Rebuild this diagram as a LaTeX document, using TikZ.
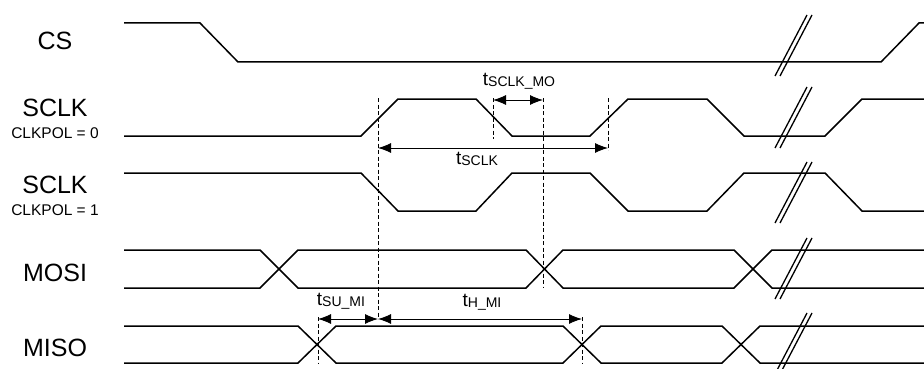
\documentclass[tikz,border=0pt]{standalone}
\usepackage{fontspec}
\setmainfont{Liberation Sans}
\usetikzlibrary{arrows.meta}

\newcommand{\tsub}[1]{t\raisebox{-1pt}{\fontsize{14}{14}\selectfont #1}}

\tikzset{
  sig/.style={line width=1.5pt},
  brk/.style={line width=1.3pt},
  guide/.style={line width=0.8pt, dash pattern=on 4pt off 2.5pt},
  dim/.style={line width=0.9pt, {Latex[length=13pt,width=10pt]}-{Latex[length=13pt,width=10pt]}},
  siglabel/.style={anchor=base, inner sep=0pt, font=\fontsize{25}{30}\selectfont},
  pollabel/.style={anchor=base, inner sep=0pt, font=\fontsize{15.5}{18}\selectfont},
  timelabel/.style={anchor=base, inner sep=0pt, font=\fontsize{19}{22}\selectfont},
}

\begin{document}
\begin{tikzpicture}[x=1pt,y=-1pt]
    \useasboundingbox (0,0) rectangle (924,369);

    % draw signal names
    \node[siglabel] (cs) at (55,50) {CS};
    \node[siglabel] (sclka) at (55,117) {SCLK};
    \node[pollabel] (pola) at (55,138) {CLKPOL = 0};
    \node[siglabel] (sclkb) at (55,193) {SCLK};
    \node[pollabel] (polb) at (55,215) {CLKPOL = 1};
    \node[siglabel] (mosi) at (55,281) {MOSI};
    \node[siglabel] (miso) at (55,356) {MISO};

    % draw CS
    \draw[sig] (124,23) -- (200,23) -- (238,62) -- (881,62) -- (919,23) -- (924,23);

    % draw SCLK, CLKPOL = 0
    \draw[sig] (124,136) -- (361,136) -- (398,99) -- (476,99) -- (512,136) -- (590,136)
      -- (628,99) -- (707,99) -- (744,136) -- (825,136) -- (862,99) -- (924,99);

    % draw SCLK, CLKPOL = 1
    \draw[sig] (124,173) -- (361,173) -- (398,211) -- (476,211) -- (512,173) -- (590,173)
      -- (628,211) -- (707,211) -- (744,173) -- (825,173) -- (862,211) -- (924,211);

    % draw MOSI
    \draw[sig] (124,250) -- (260,250) -- (298,288) -- (526,288) -- (563,250) -- (734,250) -- (772,288) -- (924,288);
    \draw[sig] (124,288) -- (260,288) -- (298,250) -- (526,250) -- (563,288) -- (734,288) -- (772,250) -- (924,250);

    % draw MISO
    \draw[sig] (124,326) -- (298,326) -- (336,363) -- (563,363) -- (601,326) -- (722,326) -- (760,363) -- (924,363);
    \draw[sig] (124,363) -- (298,363) -- (336,326) -- (563,326) -- (601,363) -- (722,363) -- (760,326) -- (924,326);

    % draw break marks
    \foreach \y in {15, 87, 162, 238, 313}
      \foreach \dx in {0, 5}
        \draw[brk] (775+\dx,\y+61) -- (807+\dx,\y);

    % draw dashed guides
    \coordinate (mo1) at (493,100);
    \coordinate (mo2) at (543,100);
    \coordinate (clk1) at (378,148);
    \coordinate (clk2) at (608,148);
    \coordinate (su1) at (318,319);
    \coordinate (su2) at (378,319);
    \coordinate (h2) at (582,319);

    \draw[guide] (378,98) -- (378,319);
    \draw[guide] (493,98) -- (493,139);
    \draw[guide] (543,98) -- (543,288);
    \draw[guide] (608,98) -- (608,150);
    \draw[guide] (318,317) -- (318,363);
    \draw[guide] (582,317) -- (582,363);

    % draw timing arrows
    \draw[dim] (mo1) -- (mo2);
    \draw[dim] (clk1) -- (clk2);
    \draw[dim] (su1) -- (su2);
    \draw[dim] (su2) -- (h2);

    % draw timing labels
    \node[timelabel] (tmo) at (519,85) {\tsub{SCLK\_MO}};
    \node[timelabel] (tclk) at (477,164) {\tsub{SCLK}};
    \node[timelabel] (tsu) at (341,305) {\tsub{SU\_MI}};
    \node[timelabel] (th) at (482,306) {\tsub{H\_MI}};
  \end{tikzpicture}
\end{document}
